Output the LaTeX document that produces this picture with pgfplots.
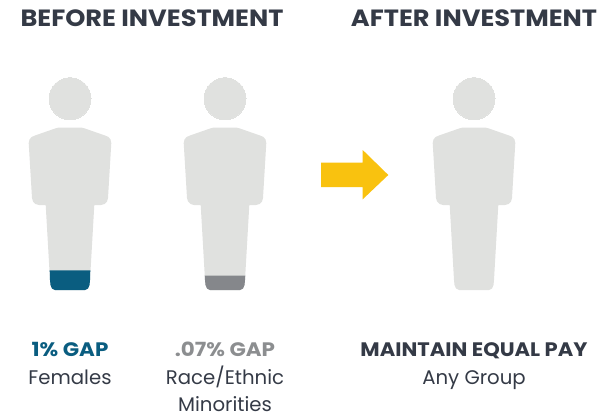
\documentclass[border=0pt]{standalone}
\usepackage{fontspec}
\setmainfont{Poppins}
\usepackage{pgfplots}
\usepackage{pgfplotstable}
\pgfplotsset{compat=1.18}
\definecolor{body}{HTML}{E0E1DF}
\definecolor{teal}{HTML}{0A5D80}
\definecolor{slate}{HTML}{85878B}
\definecolor{gaptext}{HTML}{8C8E90}
\definecolor{ink}{HTML}{343A46}
\definecolor{arrow}{HTML}{F9C20F}
\tikzset{lbl/.style={anchor=base, inner sep=0pt}}

% person outline, pixels of the reference, one table per figure
\pgfplotstableread{
x y
58 127.7
82 127.7
85 128.5
105 135.5
108.5 137
110.5 139.5
111.3 143
108 198
107 201.5
104.5 204
101 205
94.3 205
90 280
89.5 285
88 288.5
85 290
55 290
52 288.5
50.5 285
50 280
45.7 205
39 205
35.5 204
33 201.5
32 198
28.7 143
29.5 139.5
31.5 137
35 135.5
55 128.5
}\personA
\pgfplotstableread{
x y
213 127.7
237 127.7
240 128.5
260 135.5
263.5 137
265.5 139.5
266.3 143
263 198
262 201.5
259.5 204
256 205
249.3 205
245 280
244.5 285
243 288.5
240 290
210 290
207 288.5
205.5 285
205 280
200.7 205
194 205
190.5 204
188 201.5
187 198
183.7 143
184.5 139.5
186.5 137
190 135.5
210 128.5
}\personB
\pgfplotstableread{
x y
462 127.7
486 127.7
489 128.5
509 135.5
512.5 137
514.5 139.5
515.3 143
512 198
511 201.5
508.5 204
505 205
498.3 205
494 280
493.5 285
492 288.5
489 290
459 290
456 288.5
454.5 285
454 280
449.7 205
443 205
439.5 204
437 201.5
436 198
432.7 143
433.5 139.5
435.5 137
439 135.5
459 128.5
}\personC

\begin{document}
\begin{tikzpicture}
\begin{axis}[
    scale only axis,
    width=604bp, height=414bp,
    xmin=0, xmax=604,
    ymin=0, ymax=414,
    y dir=reverse,
    axis line style={draw=none},
    xtick=\empty, ytick=\empty,
    clip=false,
]
    % bodies
    \addplot[fill=body, draw=none] table {\personA} -- cycle;
    \addplot[fill=body, draw=none] table {\personB} -- cycle;
    \addplot[fill=body, draw=none] table {\personC} -- cycle;

    % heads
    \addplot[only marks, mark=*, mark size=21bp, mark options={fill=body, draw=body, line width=0pt}]
        coordinates {(70,98.7)(225,98.7)(474,98.7)};

    % gap part of the legs
    \addplot[fill=teal, draw=none] coordinates {
        (49.7,270.3)(90.3,270.3)(90,280)(89.5,285)(88,288.5)(85,290)(55,290)(52,288.5)(50.5,285)(50,280)
    } -- cycle;
    \addplot[fill=slate, draw=none] coordinates {
        (204.7,275.5)(245.3,275.5)(245,280)(244.5,285)(243,288.5)(240,290)(210,290)(207,288.5)(205.5,285)(205,280)
    } -- cycle;

    % arrow
    \addplot[fill=arrow, draw=none] coordinates {
        (321,162.7)(362.7,162.7)(362.7,150)(388.3,175)(362.7,199.3)(362.7,187)(321,187)
    } -- cycle;

    % headings
    \node[lbl, text=ink, font=\fontsize{23.5bp}{26bp}\selectfont\bfseries] at (axis cs:152,26.7) {\scalebox{1.09}[1]{BEFORE INVESTMENT}};
    \node[lbl, text=ink, font=\fontsize{23.5bp}{26bp}\selectfont\bfseries] at (axis cs:474,26.7) {\scalebox{1.09}[1]{AFTER INVESTMENT}};

    % captions
    \node[lbl, text=teal, font=\fontsize{19.5bp}{22bp}\selectfont\bfseries] at (axis cs:70,356.7) {\scalebox{1.1}[1]{1\% GAP}};
    \node[lbl, text=gaptext, font=\fontsize{19.5bp}{22bp}\selectfont\bfseries] at (axis cs:225,356.7) {\scalebox{1.1}[1]{.07\% GAP}};
    \node[lbl, text=ink, font=\fontsize{19.5bp}{22bp}\selectfont\bfseries] at (axis cs:474,356.7) {\scalebox{1.08}[1]{MAINTAIN EQUAL PAY}};
    \node[lbl, text=ink, font=\fontsize{19.7bp}{22bp}\selectfont] at (axis cs:70,384) {Females};
    \node[lbl, text=ink, font=\fontsize{19.7bp}{22bp}\selectfont] at (axis cs:225,384) {Race/Ethnic};
    \node[lbl, text=ink, font=\fontsize{19.7bp}{22bp}\selectfont] at (axis cs:225,411) {Minorities};
    \node[lbl, text=ink, font=\fontsize{19.7bp}{22bp}\selectfont] at (axis cs:474,384) {Any Group};
\end{axis}
\end{tikzpicture}
\end{document}
